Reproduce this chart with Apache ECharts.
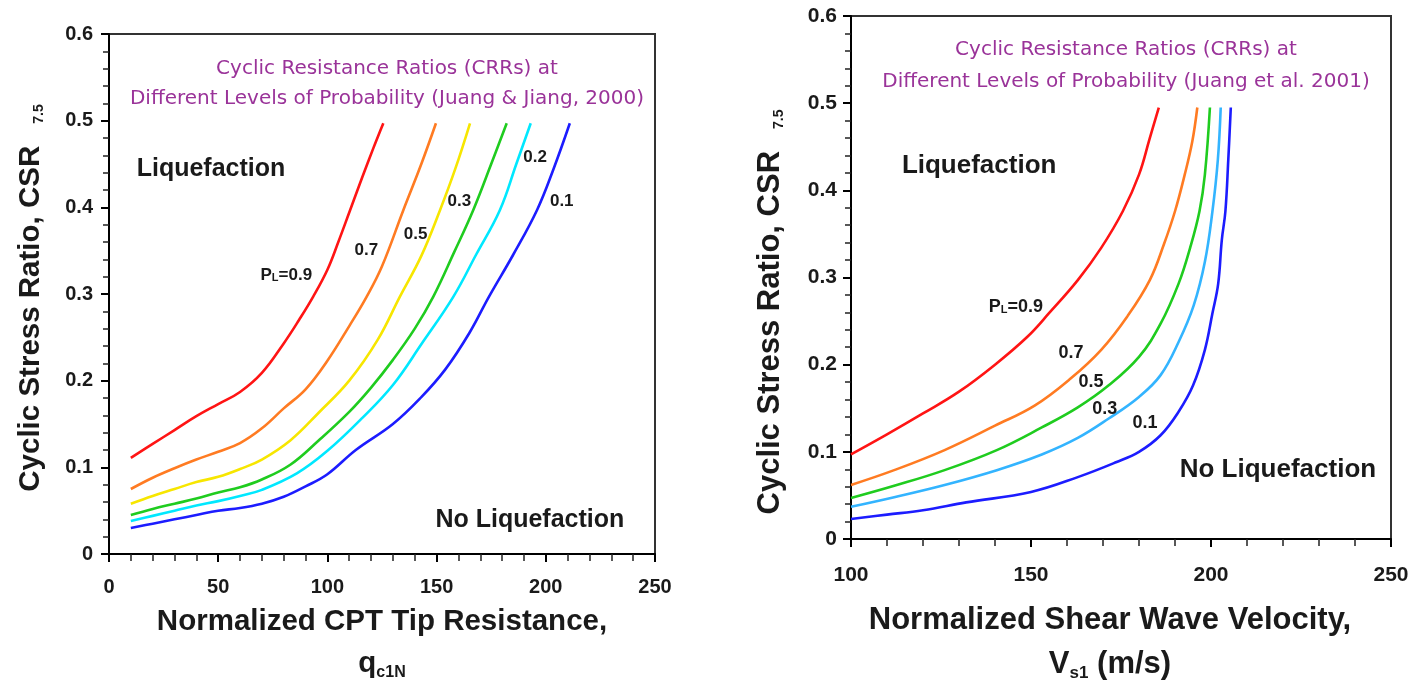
<!DOCTYPE html>
<html>
<head>
<meta charset="utf-8">
<script src="https://cdn.jsdelivr.net/npm/echarts@6/dist/echarts.min.js"></script>
<style>html,body{margin:0;padding:0;background:#fff}#c{width:1412px;height:683px}</style>
</head>
<body>
<div id="c"></div>
<script>
// ---------- DATA: left chart (CPT, Juang & Jiang 2000) ----------
const cptLevels = ['0.9', '0.7', '0.5', '0.3', '0.2', '0.1'];
const cptP90 = [[10,0.111],[20,0.127],[30,0.143],[40,0.159],[50,0.173],[60,0.187],[70,0.209],[80,0.243],[87,0.27],[93.5,0.297],[100,0.328],[105,0.36],[110,0.394],[116,0.435],[121,0.468],[125.6,0.497]];
const cptP70 = [[10,0.075],[20,0.088],[30,0.099],[40,0.109],[50,0.118],[60,0.128],[70,0.145],[80,0.168],[90,0.19],[100,0.223],[110,0.263],[118,0.297],[125,0.332],[134.8,0.397],[143,0.45],[149.7,0.497]];
const cptP50 = [[10,0.058],[20,0.067],[30,0.075],[40,0.083],[50,0.089],[60,0.098],[70,0.109],[83,0.131],[96,0.163],[110,0.2],[123,0.247],[133.2,0.297],[143,0.344],[151.6,0.397],[158.5,0.444],[165.3,0.497]];
const cptP30 = [[10,0.045],[20,0.052],[30,0.058],[40,0.064],[50,0.071],[60,0.077],[70,0.086],[83,0.103],[96,0.131],[110,0.164],[120,0.192],[130,0.224],[140,0.26],[148.5,0.297],[158,0.348],[166.8,0.397],[175,0.45],[182.1,0.497]];
const cptP20 = [[10,0.038],[20,0.044],[30,0.05],[40,0.056],[50,0.061],[60,0.067],[70,0.074],[86,0.093],[100,0.119],[116,0.157],[130,0.195],[143,0.242],[157.7,0.297],[168,0.345],[179,0.397],[186.5,0.45],[193.1,0.497]];
const cptP10 = [[10,0.03],[20,0.035],[30,0.04],[40,0.045],[50,0.05],[60,0.053],[70,0.058],[80,0.066],[90,0.078],[100,0.092],[113,0.12],[130,0.15],[143,0.181],[154,0.213],[165,0.255],[174,0.297],[185,0.345],[196,0.397],[203.5,0.444],[211,0.497]];
const cptCurveLabels = [[81.2,0.322,'P_L=0.9'],[117.8,0.350,'0.7'],[140.4,0.369,'0.5'],[160.4,0.407,'0.3'],[195.1,0.458,'0.2'],[207.3,0.407,'0.1']];
const cptRegionLabels = [[46.7,0.444,'Liquefaction'],[192.7,0.039,'No Liquefaction']];
const cptXTicks = ['0','50','100','150','200','250'];

// ---------- DATA: right chart (Vs, Juang et al. 2001) ----------
const vsLevels = ['0.9', '0.7', '0.5', '0.3', '0.1'];
const vsP90 = [[100,0.097],[110,0.12],[120,0.144],[130,0.169],[140,0.2],[149,0.232],[155,0.259],[163,0.297],[169.5,0.334],[175.5,0.376],[180,0.418],[183,0.46],[185.5,0.495]];
const vsP70 = [[100,0.062],[112,0.079],[126,0.102],[140,0.13],[151,0.153],[161,0.184],[169.5,0.217],[176.7,0.255],[183,0.297],[187,0.339],[190,0.376],[192.7,0.418],[194.8,0.456],[196.2,0.495]];
const vsP50 = [[100,0.047],[112,0.061],[126,0.079],[140.5,0.102],[153,0.128],[163,0.151],[171.5,0.176],[180,0.209],[186,0.247],[191,0.293],[194.2,0.334],[196.8,0.376],[198.3,0.418],[199.7,0.495]];
const vsP30 = [[100,0.037],[112,0.048],[126,0.062],[140.5,0.079],[153,0.097],[163,0.116],[171.5,0.138],[180,0.163],[186,0.188],[191,0.226],[195.2,0.268],[198.3,0.318],[200.4,0.376],[201.9,0.435],[202.7,0.495]];
const vsP10 = [[100,0.023],[110,0.028],[120,0.033],[132,0.042],[150,0.054],[163,0.071],[173.6,0.088],[180,0.1],[186,0.119],[191,0.146],[195,0.176],[198.3,0.217],[200.4,0.259],[202,0.293],[203,0.343],[204,0.376],[204.8,0.435],[205.5,0.495]];
const vsCurveLabels = [[145.8,0.2665,'P_L=0.9'],[161.1,0.213,'0.7'],[166.7,0.18,'0.5'],[170.5,0.149,'0.3'],[181.7,0.133,'0.1']];
const vsRegionLabels = [[135.6,0.428,'Liquefaction'],[218.6,0.079,'No Liquefaction']];
const vsXTicks = ['100','150','200','250'];

const csrTicks = ['0','0.1','0.2','0.3','0.4','0.5','0.6'];

// ---------- styling ----------
const FONT = 'Liberation Sans, Arial, sans-serif';
const INK = '#1a1a1a';
const cptColors = ['#ff1414','#ff7b22','#f7e600','#1fcc1f','#00e8ff','#1c1cff'];
const vsColors = ['#ff1414','#ff7b22','#1fcc1f','#33b4ff','#1c1cff'];
const TITLE_COLOR = '#9a3399';

function richLabel(t) {
  const m = t.match(/^(.*?)_(\w)(.*)$/);
  return m ? '{b|' + m[1] + '}{sub|' + m[2] + '}{b|' + m[3] + '}' : '{b|' + t + '}';
}

function xAxisCfg(idx, min, max, ticks, name, fs, labFs, gap, pad, labMargin, lh) {
  return {
    type: 'value', gridIndex: idx, min: min, max: max, interval: 50,
    axisLine: { show: true, onZero: false, lineStyle: { color: '#000', width: 2 } },
    axisTick: { show: true, inside: false, length: 8, lineStyle: { color: '#000', width: 2 } },
    minorTick: { show: true, splitNumber: 5, length: 7, lineStyle: { color: '#222', width: 1.5 } },
    splitLine: { show: false }, minorSplitLine: { show: false },
    axisLabel: {
      fontSize: labFs, fontWeight: 'bold', fontFamily: FONT, color: INK, margin: labMargin,
      formatter: v => ticks[Math.round((v - min) / 50)]
    },
    name: name, nameLocation: 'middle', nameGap: gap,
    nameTextStyle: {
      padding: pad,
      rich: {
        m: { fontSize: fs, fontWeight: 'bold', fontFamily: FONT, color: INK, lineHeight: lh },
        s: { fontSize: Math.round(fs * 0.55), fontWeight: 'bold', fontFamily: FONT, color: INK, verticalAlign: 'bottom', padding: [0, 0, 4, 0] }
      }
    }
  };
}

function yAxisCfg(idx, fs, labFs, gap, pad, labMargin) {
  return {
    type: 'value', gridIndex: idx, min: 0, max: 0.6, interval: 0.1,
    axisLine: { show: true, onZero: false, lineStyle: { color: '#000', width: 2 } },
    axisTick: { show: true, inside: false, length: 8, lineStyle: { color: '#000', width: 2 } },
    minorTick: { show: true, splitNumber: 5, length: 6, lineStyle: { color: '#222', width: 1.5 } },
    splitLine: { show: false }, minorSplitLine: { show: false },
    axisLabel: {
      fontSize: labFs, fontWeight: 'bold', fontFamily: FONT, color: INK, margin: labMargin,
      formatter: v => csrTicks[Math.round(v * 10)]
    },
    name: '{m|Cyclic Stress Ratio, CSR}{s|7.5}', nameLocation: 'middle', nameRotate: 90, nameGap: gap,
    nameTextStyle: {
      padding: pad,
      rich: {
        m: { fontSize: fs, fontWeight: 'bold', fontFamily: FONT, color: INK },
        s: { fontSize: 14, fontWeight: 'bold', fontFamily: FONT, color: INK, padding: [0, 0, 0, 22], verticalAlign: 'bottom' }
      }
    }
  };
}

function curveSeries(idx, data, color) {
  return {
    type: 'line', xAxisIndex: idx, yAxisIndex: idx, data: data,
    showSymbol: false, symbol: 'none', smooth: 0.4,
    lineStyle: { color: color, width: 2.6 }, itemStyle: { color: color }, z: 2
  };
}

function labelSeries(idx, items, fs) {
  return {
    type: 'scatter', xAxisIndex: idx, yAxisIndex: idx, symbolSize: 1,
    itemStyle: { color: 'rgba(0,0,0,0)', opacity: 1 }, z: 5, silent: true,
    data: items.map(d => ({ value: [d[0], d[1]], name: d[2] })),
    label: {
      show: true, position: 'inside', opacity: 1,
      formatter: p => richLabel(p.name),
      rich: {
        b: { fontSize: fs, fontWeight: 'bold', fontFamily: FONT, color: INK },
        sub: { fontSize: Math.round(fs * 0.62), fontWeight: 'bold', fontFamily: FONT, color: INK, verticalAlign: 'bottom' }
      }
    }
  };
}

const cptSeriesData = [cptP90, cptP70, cptP50, cptP30, cptP20, cptP10];
const vsSeriesData = [vsP90, vsP70, vsP50, vsP30, vsP10];

const series = [];
cptSeriesData.forEach((d, i) => series.push(Object.assign(curveSeries(0, d, cptColors[i]), { name: 'CPT PL=' + cptLevels[i] })));
vsSeriesData.forEach((d, i) => series.push(Object.assign(curveSeries(1, d, vsColors[i]), { name: 'Vs PL=' + vsLevels[i] })));
series.push(labelSeries(0, cptCurveLabels, 17));
series.push(labelSeries(0, cptRegionLabels, 25));
series.push(labelSeries(1, vsCurveLabels, 18));
series.push(labelSeries(1, vsRegionLabels, 26));

const titleStyle = { fontSize: 20, fontWeight: 'normal', fontFamily: 'DejaVu Sans, sans-serif', color: TITLE_COLOR, lineHeight: 30 };

const option = {
  animation: false,
  backgroundColor: '#fff',
  title: [
    { text: 'Cyclic Resistance Ratios (CRRs) at\nDifferent Levels of Probability (Juang & Jiang, 2000)',
      left: 382, top: 49, textAlign: 'center', textStyle: titleStyle },
    { text: 'Cyclic Resistance Ratios (CRRs) at\nDifferent Levels of Probability (Juang et al. 2001)',
      left: 1121, top: 29, textAlign: 'center', textStyle: Object.assign({}, titleStyle, { lineHeight: 32 }) }
  ],
  grid: [
    { left: 109, top: 34, width: 546, height: 520, outerBoundsMode: 'none', containLabel: false, show: true, borderColor: '#333', borderWidth: 2, backgroundColor: 'transparent' },
    { left: 851, top: 16, width: 540, height: 523, outerBoundsMode: 'none', containLabel: false, show: true, borderColor: '#333', borderWidth: 2, backgroundColor: 'transparent' }
  ],
  xAxis: [
    xAxisCfg(0, 0, 250, cptXTicks, '{m|Normalized CPT Tip Resistance,}\n{m|q}{s|c1N}', 29.5, 20, 47, [0, 0, 0, 0], 23, 42),
    xAxisCfg(1, 100, 250, vsXTicks, '{m|Normalized Shear Wave Velocity,}\n{m|V}{s|s1}{m| (m/s)}', 31, 21, 59, [0, 22, 0, 0], 26, 44)
  ],
  yAxis: [
    yAxisCfg(0, 29.5, 20, 63, [0, 8, 0, 0], 16),
    yAxisCfg(1, 31, 21, 65, [0, 69, 0, 0], 14)
  ],
  series: series
};

const chart = echarts.init(document.getElementById('c'), null, { renderer: 'canvas' });
chart.setOption(option);
</script>
</body>
</html>
